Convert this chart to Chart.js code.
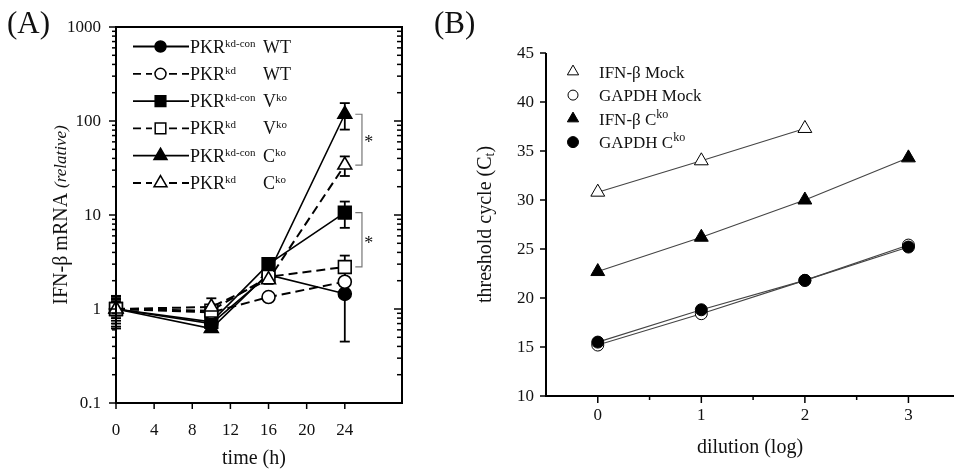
<!DOCTYPE html>
<html><head><meta charset="utf-8">
<script src="https://cdn.jsdelivr.net/npm/chart.js@4.4.1/dist/chart.umd.min.js"></script>
<style>
html,body{margin:0;padding:0;background:#fff;}
#wrap{position:relative;width:963px;height:472px;overflow:hidden;background:#fff}
canvas{position:absolute;top:0}
#ca{left:0}
#cb{left:420px}
</style></head><body>
<div id="wrap"><canvas id="ca" width="420" height="472"></canvas><canvas id="cb" width="543" height="472"></canvas></div>
<script>
const SERIF = '"Liberation Serif","Times New Roman",Times,serif';
const F = (s, st) => (st ? st + ' ' : '') + s + 'px ' + SERIF;

// ---------- Panel A data ----------
const timeA = [0, 10, 16, 24];
const wtCon = [1.0, 0.70, 2.3, 1.45];
const wtConErr = [0.38, 0.06, 0.2, 1.0];
const wtKd = [1.0, 0.92, 1.34, 1.95];
const wtKdErr = [0.3, 0.08, 0.1, 0.2];
const vkoCon = [1.0, 0.73, 3.0, 10.6];
const vkoConErr = [0.25, 0.06, 0.3, 3.3];
const vkoKd = [1.0, 0.96, 2.2, 2.8];
const vkoKdErr = [0.2, 0.08, 0.2, 0.9];
const ckoCon = [1.0, 0.62, 2.4, 118];
const ckoConErr = [0.35, 0.05, 0.2, 37];
const ckoKd = [1.0, 1.05, 2.05, 34];
const ckoKdErr = [0.15, 0.25, 0.2, 8];
const xTicksA = [0, 4, 8, 12, 16, 20, 24];
const yMajorA = [0.1, 1, 10, 100, 1000];
const yLabelsA = ['0.1', '1', '10', '100', '1000'];
const minorMult = [2, 3, 4, 5, 6, 7, 8, 9];
const legendSupA = ['kd-con', 'kd', 'kd-con', 'kd', 'kd-con', 'kd'];
const legendGrpA = ['WT', 'WT', 'V', 'V', 'C', 'C'];
const legendGrpSupA = ['', '', 'ko', 'ko', 'ko', 'ko'];

// ---------- Panel B data ----------
const dilution = [0, 1, 2, 3];
const ifnMock = [30.8, 34.0, 37.3];
const gapdhMock = [15.2, 18.4, 21.8, 25.4];
const ifnCko = [22.7, 26.2, 30.0, 34.3];
const gapdhCko = [15.5, 18.8, 21.8, 25.2];
const xTicksB = [0, 1, 2, 3];
const xMinorB = [0.5, 1.5, 2.5];
const yTicksB = [10, 15, 20, 25, 30, 35, 40, 45];
const legendB = ['IFN-β Mock', 'GAPDH Mock', 'IFN-β C', 'GAPDH C'];
const legendSupB = ['', '', 'ko', 'ko'];

function drawMarker(ctx, style, x, y, r, filled, lw) {
  ctx.save();
  ctx.beginPath();
  if (style === 'circle') ctx.arc(x, y, r, 0, Math.PI * 2);
  else if (style === 'rect') { const s = r * Math.SQRT1_2; ctx.rect(x - s, y - s, 2 * s, 2 * s); }
  else {
    ctx.moveTo(x, y - r);
    ctx.lineTo(x + r * Math.sin(2 * Math.PI / 3), y - r * Math.cos(2 * Math.PI / 3));
    ctx.lineTo(x + r * Math.sin(4 * Math.PI / 3), y - r * Math.cos(4 * Math.PI / 3));
    ctx.closePath();
  }
  ctx.fillStyle = filled ? '#000' : '#fff';
  ctx.fill();
  ctx.lineWidth = lw; ctx.strokeStyle = '#000'; ctx.setLineDash([]);
  ctx.stroke();
  ctx.restore();
}
function rich(ctx, parts, x, y, align) {
  let w = 0;
  parts.forEach(p => { ctx.font = p[1]; w += ctx.measureText(p[0]).width; });
  let cx = align === 'center' ? x - w / 2 : x;
  ctx.textAlign = 'left';
  parts.forEach(p => { ctx.font = p[1]; ctx.fillText(p[0], cx, y + (p[2] || 0)); cx += ctx.measureText(p[0]).width; });
}
function line(ctx, x1, y1, x2, y2) { ctx.beginPath(); ctx.moveTo(x1, y1); ctx.lineTo(x2, y2); ctx.stroke(); }

// ---------- Panel A ----------
const specA = [
  {d: ckoKd, e: ckoKdErr, ps: 'triangle', r: 8, fill: false, dash: true},
  {d: vkoKd, e: vkoKdErr, ps: 'rect', r: 9, fill: false, dash: true},
  {d: wtKd, e: wtKdErr, ps: 'circle', r: 6.5, fill: false, dash: true},
  {d: ckoCon, e: ckoConErr, ps: 'triangle', r: 8, fill: true, dash: false},
  {d: vkoCon, e: vkoConErr, ps: 'rect', r: 9, fill: true, dash: false},
  {d: wtCon, e: wtConErr, ps: 'circle', r: 6.5, fill: true, dash: false}
];
const dsA = specA.map(s => ({
  data: timeA.map((t, i) => ({x: t, y: s.d[i]})),
  errs: s.e, clip: false,
  borderColor: '#000', borderWidth: s.dash ? 2 : 1.6, borderDash: s.dash ? [9, 5] : [],
  pointStyle: s.ps, pointRadius: s.r, pointBorderWidth: 1.6,
  pointBackgroundColor: s.fill ? '#000' : '#fff', pointBorderColor: '#000',
  fill: false, tension: 0
}));
const legendStyleA = [
  {ps: 'circle', r: 5.5, fill: true, dash: false},
  {ps: 'circle', r: 5.5, fill: false, dash: true},
  {ps: 'rect', r: 7.5, fill: true, dash: false},
  {ps: 'rect', r: 7.5, fill: false, dash: true},
  {ps: 'triangle', r: 7.5, fill: true, dash: false},
  {ps: 'triangle', r: 7.5, fill: false, dash: true}
];

const plugA = {
  id: 'decorA',
  beforeDatasetsDraw(chart) {
    const ctx = chart.ctx, ys = chart.scales.y;
    ctx.save(); ctx.strokeStyle = '#000'; ctx.lineWidth = 1.8; ctx.setLineDash([]);
    chart.data.datasets.forEach((ds, i) => {
      const meta = chart.getDatasetMeta(i);
      ds.errs.forEach((e, j) => {
        const v = ds.data[j].y, px = meta.data[j].x;
        const yt = ys.getPixelForValue(v + e), yb = ys.getPixelForValue(Math.max(v - e, 0.02));
        line(ctx, px, yt, px, yb);
        line(ctx, px - 5, yt, px + 5, yt);
        line(ctx, px - 5, yb, px + 5, yb);
      });
    });
    ctx.restore();
  },
  afterDraw(chart) {
    const ctx = chart.ctx, a = chart.chartArea, xs = chart.scales.x, ys = chart.scales.y;
    ctx.save();
    ctx.strokeStyle = '#000'; ctx.fillStyle = '#111'; ctx.setLineDash([]);
    ctx.lineWidth = 2;
    ctx.strokeRect(a.left, a.top, a.right - a.left, a.bottom - a.top);
    ctx.lineWidth = 1.5;
    xTicksA.forEach(v => { const p = xs.getPixelForValue(v); line(ctx, p, a.bottom, p, a.bottom + 6); });
    yMajorA.forEach(v => {
      const p = ys.getPixelForValue(v);
      line(ctx, a.left - 7, p, a.left, p);
      line(ctx, a.right - 8, p, a.right, p);
    });
    yMajorA.slice(0, -1).forEach(v => minorMult.forEach(m => {
      const p = ys.getPixelForValue(v * m);
      line(ctx, a.left - 4, p, a.left, p);
      line(ctx, a.right - 5, p, a.right, p);
    }));
    // tick labels
    ctx.font = F(17); ctx.textBaseline = 'middle';
    ctx.textAlign = 'center';
    xTicksA.forEach(v => ctx.fillText(String(v), xs.getPixelForValue(v), 431));
    ctx.textAlign = 'right';
    yMajorA.forEach((v, i) => ctx.fillText(yLabelsA[i], 101, ys.getPixelForValue(v) + 1));
    // axis titles
    ctx.textAlign = 'center';
    ctx.font = F(20);
    ctx.fillText('time (h)', (a.left + a.right) / 2 - 5, 459);
    ctx.save();
    ctx.translate(62, (a.top + a.bottom) / 2);
    ctx.rotate(-Math.PI / 2);
    rich(ctx, [['IFN-β mRNA ', F(20)], ['(relative)', F(17, 'italic')]], 0, 0, 'center');
    ctx.restore();
    // panel label
    ctx.font = F(31); ctx.textAlign = 'left'; ctx.textBaseline = 'alphabetic';
    ctx.fillText('(A)', 7, 33);
    // legend
    ctx.textBaseline = 'alphabetic';
    legendStyleA.forEach((s, i) => {
      const y = 46.5 + i * 27.3;
      ctx.strokeStyle = '#000'; ctx.lineWidth = 1.8;
      ctx.setLineDash(s.dash ? [8, 5] : []);
      if (s.dash) { line(ctx, 133, y, 152, y); line(ctx, 169, y, 189, y); }
      else line(ctx, 133, y, 189, y);
      ctx.setLineDash([]);
      drawMarker(ctx, s.ps, 160.5, y, s.r, s.fill, 1.5);
      ctx.fillStyle = '#111';
      rich(ctx, [['PKR', F(18)], [legendSupA[i], F(11), -6]], 190, y + 6, 'left');
      rich(ctx, [[legendGrpA[i], F(18)], [legendGrpSupA[i], F(11), -6]], 263, y + 6, 'left');
    });
    // significance brackets
    ctx.strokeStyle = '#777'; ctx.lineWidth = 1.2;
    const bx = xs.getPixelForValue(25.8), bt = xs.getPixelForValue(25.1), sx = xs.getPixelForValue(26.5);
    [[ckoCon[3], ckoKd[3]], [vkoCon[3], vkoKd[3]]].forEach(pr => {
      const y1 = ys.getPixelForValue(pr[0]), y2 = ys.getPixelForValue(pr[1]);
      ctx.beginPath(); ctx.moveTo(bt, y1); ctx.lineTo(bx, y1); ctx.lineTo(bx, y2); ctx.lineTo(bt, y2); ctx.stroke();
      ctx.fillStyle = '#111'; ctx.font = F(18); ctx.textAlign = 'center'; ctx.textBaseline = 'middle';
      ctx.fillText('*', sx, (y1 + y2) / 2 + 4);
    });
    ctx.restore();
  }
};

new Chart(document.getElementById('ca'), {
  type: 'line',
  data: {datasets: dsA},
  options: {
    responsive: false, animation: false, devicePixelRatio: 1,
    layout: {padding: {top: 27, right: 18, left: 0, bottom: 0}},
    plugins: {legend: {display: false}, tooltip: {enabled: false}},
    scales: {
      x: {type: 'linear', min: 0, max: 30,
        afterBuildTicks(s) { s.ticks = xTicksA.map(v => ({value: v})); },
        afterFit(s) { s.height = 69; },
        grid: {display: false, drawTicks: false}, border: {display: false}, ticks: {display: false}},
      y: {type: 'logarithmic', min: 0.1, max: 1000,
        afterBuildTicks(s) { s.ticks = yMajorA.map(v => ({value: v})); },
        afterFit(s) { s.width = 116; },
        grid: {display: false, drawTicks: false}, border: {display: false}, ticks: {display: false}}
    }
  },
  plugins: [plugA]
});

// ---------- Panel B ----------
const specB = [
  {d: gapdhCko, ps: 'circle', r: 6, fill: true},
  {d: gapdhMock, ps: 'circle', r: 6, fill: false},
  {d: ifnCko, ps: 'triangle', r: 8, fill: true},
  {d: ifnMock, ps: 'triangle', r: 8, fill: false}
];
const dsB = specB.map(s => ({
  data: s.d.map((v, i) => ({x: dilution[i], y: v})),
  clip: false,
  borderColor: '#444', borderWidth: 1.1,
  pointStyle: s.ps, pointRadius: s.r, pointBorderWidth: 1,
  pointBackgroundColor: s.fill ? '#000' : '#fff', pointBorderColor: '#000',
  fill: false, tension: 0
}));
const legendStyleB = [
  {ps: 'triangle', r: 6.5, fill: false},
  {ps: 'circle', r: 5, fill: false},
  {ps: 'triangle', r: 6.5, fill: true},
  {ps: 'circle', r: 5.5, fill: true}
];
const plugB = {
  id: 'decorB',
  afterDraw(chart) {
    const ctx = chart.ctx, a = chart.chartArea, xs = chart.scales.x, ys = chart.scales.y;
    ctx.save();
    ctx.strokeStyle = '#000'; ctx.fillStyle = '#111'; ctx.setLineDash([]);
    ctx.lineWidth = 2;
    line(ctx, a.left, a.top, a.left, a.bottom + 1);
    line(ctx, a.left - 1, a.bottom, a.right, a.bottom);
    ctx.lineWidth = 1.5;
    xTicksB.forEach(v => { const p = xs.getPixelForValue(v); line(ctx, p, a.bottom, p, a.bottom + 7); });
    xMinorB.forEach(v => { const p = xs.getPixelForValue(v); line(ctx, p, a.bottom, p, a.bottom + 4); });
    yTicksB.forEach(v => { const p = ys.getPixelForValue(v); line(ctx, a.left - 6, p, a.left, p); });
    ctx.font = F(17); ctx.textBaseline = 'middle';
    ctx.textAlign = 'center';
    xTicksB.forEach(v => ctx.fillText(String(v), xs.getPixelForValue(v), 416));
    ctx.textAlign = 'right';
    yTicksB.forEach(v => ctx.fillText(String(v), a.left - 12, ys.getPixelForValue(v) + 1));
    ctx.textAlign = 'center'; ctx.font = F(20);
    ctx.fillText('dilution (log)', (a.left + a.right) / 2, 448);
    ctx.save();
    ctx.translate(66, (a.top + a.bottom) / 2);
    ctx.rotate(-Math.PI / 2);
    rich(ctx, [['threshold cycle (C', F(20)], ['t', F(14), 4], [')', F(20)]], 0, 0, 'center');
    ctx.restore();
    ctx.font = F(31); ctx.textAlign = 'left'; ctx.textBaseline = 'alphabetic';
    ctx.fillText('(B)', 14, 33);
    legendStyleB.forEach((s, i) => {
      const y = 71.6 + i * 23.5;
      drawMarker(ctx, s.ps, 153, y, s.r, s.fill, 1);
      ctx.fillStyle = '#111'; ctx.textBaseline = 'alphabetic';
      rich(ctx, [[legendB[i], F(17)], [legendSupB[i], F(12), -7]], 179, y + 6, 'left');
    });
    ctx.restore();
  }
};
new Chart(document.getElementById('cb'), {
  type: 'line',
  data: {datasets: dsB},
  options: {
    responsive: false, animation: false, devicePixelRatio: 1,
    layout: {padding: {top: 53, right: 0, left: 0, bottom: 0}},
    plugins: {legend: {display: false}, tooltip: {enabled: false}},
    scales: {
      x: {type: 'linear', min: -0.5, max: 3.44,
        afterBuildTicks(s) { s.ticks = xTicksB.map(v => ({value: v})); },
        afterFit(s) { s.height = 76; },
        grid: {display: false, drawTicks: false}, border: {display: false}, ticks: {display: false}},
      y: {type: 'linear', min: 10, max: 45,
        afterBuildTicks(s) { s.ticks = yTicksB.map(v => ({value: v})); },
        afterFit(s) { s.width = 126; },
        grid: {display: false, drawTicks: false}, border: {display: false}, ticks: {display: false}}
    }
  },
  plugins: [plugB]
});
</script>
</body></html>
